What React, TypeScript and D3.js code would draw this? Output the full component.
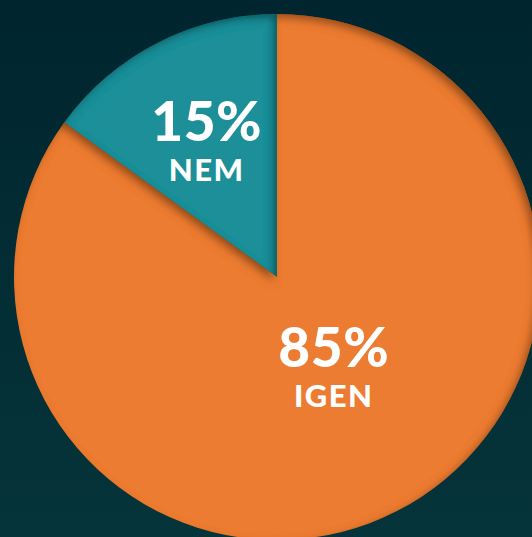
import React from "react";
import * as d3 from "d3";

const categories = ["NEM", "IGEN"];
const values = [15, 85];
const colors = ["#1f8f99", "#ec7c31"];

const W = 532;
const H = 537;

export default function App() {
  const cx = 277;
  const cy = 277;
  const r = 263;
  const pie = d3.pie<number>().sort(null).value((d) => d);
  const off = (values[0] / 100) * 2 * Math.PI;
  const arcs = pie(values).map((a) => ({ ...a, startAngle: a.startAngle - off, endAngle: a.endAngle - off }));
  const arc = d3.arc<any>().innerRadius(0).outerRadius(r);
  const labelR = [155, 105];
  const labelShift = [0, -0.1];
  return (
    <svg width={W} height={H} style={{ position: "absolute", left: 0, top: 0 }}>
      <defs>
        <linearGradient id="bg" x1="0" y1="0" x2="0" y2="1">
          <stop offset="0" stopColor="#00252e" />
          <stop offset="1" stopColor="#06343b" />
        </linearGradient>
        <filter id="inner" x="-10%" y="-10%" width="120%" height="120%">
          <feComponentTransfer in="SourceAlpha" result="inv">
            <feFuncA type="table" tableValues="1 0" />
          </feComponentTransfer>
          <feOffset in="inv" dx="-4" dy="4" result="off" />
          <feGaussianBlur in="off" stdDeviation="4" result="blur" />
          <feFlood floodColor="#000" floodOpacity="0.65" result="col" />
          <feComposite in="col" in2="blur" operator="in" result="sh" />
          <feComposite in="sh" in2="SourceAlpha" operator="in" result="shIn" />
          <feMerge>
            <feMergeNode in="SourceGraphic" />
            <feMergeNode in="shIn" />
          </feMerge>
        </filter>
      </defs>
      <rect width={W} height={H} fill="url(#bg)" />
      <g transform={`translate(${cx},${cy})`}>
        {arcs.map((a, i) => (
          <path key={categories[i]} d={arc(a) as string} fill={colors[i]} filter="url(#inner)" />
        ))}
        {arcs.map((a, i) => {
          const mid = (a.startAngle + a.endAngle) / 2 + labelShift[i];
          const x = Math.sin(mid) * labelR[i];
          const y = -Math.cos(mid) * labelR[i];
          return (
            <g key={"l" + i} transform={`translate(${x},${y})`} fill="#fff" textAnchor="middle" fontFamily="Lato, 'Noto Sans', sans-serif" fontWeight={900}>
              <text y={2} fontSize={55} letterSpacing={0.5}>{values[i]}%</text>
              <text y={42} fontSize={31} letterSpacing={1.5}>{categories[i]}</text>
            </g>
          );
        })}
      </g>
    </svg>
  );
}
